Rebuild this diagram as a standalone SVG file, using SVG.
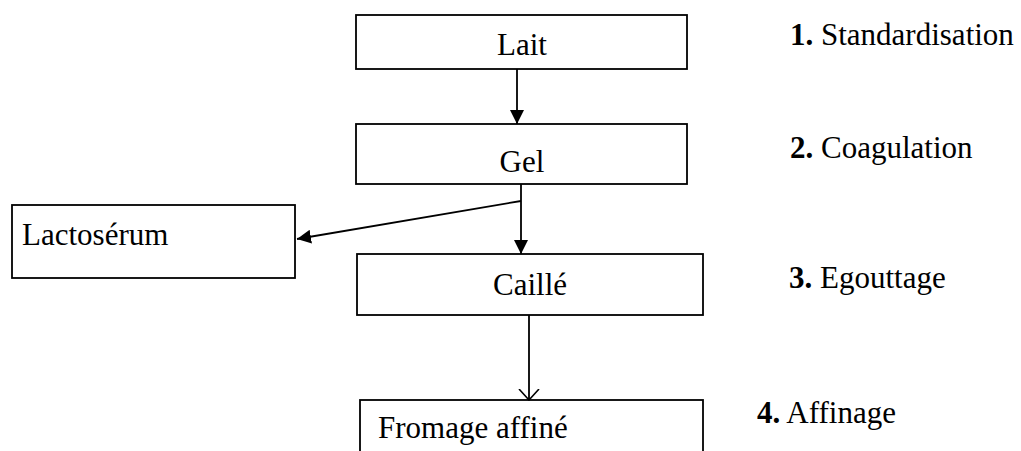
<svg xmlns="http://www.w3.org/2000/svg" width="1021" height="451" viewBox="0 0 1021 451" font-family="'Liberation Serif', 'DejaVu Serif', serif">
<style>
.box{fill:#fff;stroke:#000;stroke-width:1.8}
text{font-family:'Liberation Serif','DejaVu Serif',serif;font-size:31px;fill:#000}
.b{font-weight:bold}
.ln{stroke:#000;stroke-width:1.8;fill:none}
</style>
<defs>
<marker id="fa" viewBox="0 0 14 14" refX="14" refY="7" markerWidth="14" markerHeight="14" markerUnits="userSpaceOnUse" orient="auto"><path d="M0,0 L14,7 L0,14 Z" fill="#000"/></marker>
<marker id="oa" viewBox="0 0 12 22" refX="11" refY="11" markerWidth="12" markerHeight="22" markerUnits="userSpaceOnUse" orient="auto"><path d="M0,1 L11,11 L0,21" fill="none" stroke="#000" stroke-width="1.6"/></marker>
</defs>
<rect width="1021" height="451" fill="#fff"/>
<g id="lait"><rect class="box" x="356" y="15" width="331" height="54"/><text x="522" y="55" text-anchor="middle">Lait</text></g>
<g id="gel"><rect class="box" x="356" y="124" width="331" height="60"/><text x="522" y="172" text-anchor="middle">Gel</text></g>
<g id="lactoserum"><rect class="box" x="12" y="205" width="283" height="73"/><text x="22" y="245">Lactosérum</text></g>
<g id="caille"><rect class="box" x="357" y="254" width="346" height="61"/><text x="530" y="295" text-anchor="middle">Caillé</text></g>
<g id="fromage"><rect class="box" x="360" y="400" width="343" height="70"/><text x="378" y="438">Fromage affiné</text></g>
<g id="steps">
<text x="790" y="45"><tspan class="b">1.</tspan> Standardisation</text>
<text x="790" y="158"><tspan class="b">2.</tspan> Coagulation</text>
<text x="789" y="288"><tspan class="b">3.</tspan> Egouttage</text>
<text x="757" y="423"><tspan class="b">4.</tspan> Affinage</text>
</g>
<g id="connectors">
<line class="ln" x1="517" y1="69" x2="517" y2="124" marker-end="url(#fa)"/>
<line class="ln" x1="521" y1="184" x2="521" y2="254" marker-end="url(#fa)"/>
<line class="ln" x1="521" y1="201" x2="297" y2="239" marker-end="url(#fa)"/>
<line class="ln" x1="529" y1="315" x2="529" y2="400" marker-end="url(#oa)"/>
</g>
</svg>
